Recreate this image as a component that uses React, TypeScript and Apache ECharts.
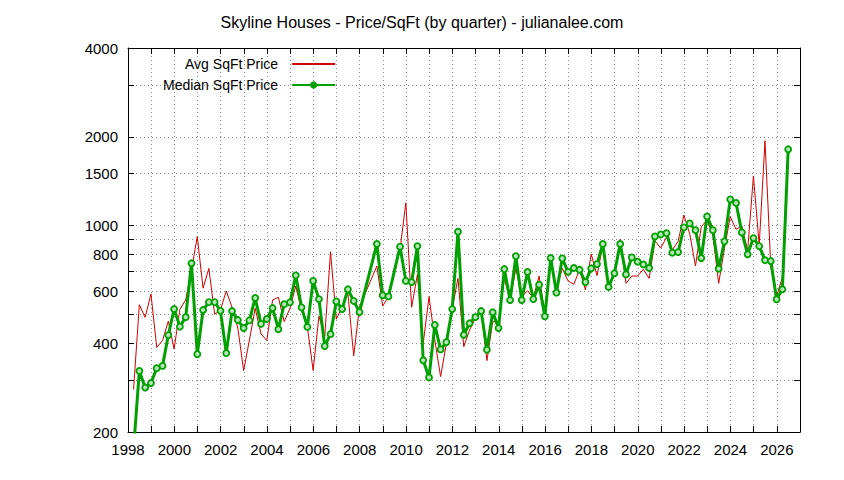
import React, { useEffect, useRef } from "react";
import * as echarts from "echarts";

// First quarter plotted (decimal year) and spacing between quarters
const startYear = 1998.24;
const quarterStep = 0.25;

const avgPrice: (number | null)[] = [
  279, 540, 489, 587, 387, 408, 475, 382, 521, 560,
  710, 918, 614, 717, 501, 518, 601, 529, 450, 323,
  410, 525, 430, 408, 560, 572, 473, 525, 625, 515,
  455, 323, 494, 420, 816, 482, 531, 590, 362, 531,
  null, null, 730, 534, 575, null, 830, 1196, 529, 684,
  399, 575, 410, 308, 399, 521, 663, 389, 443, 485,
  514, 349, 473, 473, 663, 560, 717, 575, 602, 570,
  675, 504, 764, 606, 717, 650, 633, 711, 606, 802,
  677, 860, 625, 684, 900, 638, 675, 675, 711, 663,
  889, 840, 913, 828, 885, 1087, 940, 730, 992, 1046,
  930, 638, 838, 1073, 972, 998, 822, 1474, 860, 1940,
  726, 575, 670, 1800,
];

const medianPrice: (number | null)[] = [
  175, 322, 283, 293, 329, 335, 426, 522, 455, 490,
  746, 367, 518, 551, 551, 515, 370, 514, 479, 450,
  478, 569, 465, 483, 526, 446, 542, 550, 679, 529,
  454, 650, 564, 391, 429, 554, 522, 609, 556, 510,
  null, null, 867, 581, 576, null, 849, 650, 644, 853,
  350, 306, 461, 381, 403, 522, 954, 427, 467, 490,
  514, 380, 509, 450, 713, 560, 789, 560, 697, 564,
  631, 493, 777, 593, 775, 698, 719, 709, 644, 717,
  741, 867, 620, 690, 867, 684, 781, 755, 739, 719,
  920, 934, 944, 810, 814, 987, 1018, 966, 777, 1075,
  966, 715, 885, 1228, 1194, 949, 800, 908, 853, 764,
  759, 563, 609, 1815,
];

const yLabelValues = [200, 400, 600, 800, 1000, 1500, 2000, 4000];
const yGridValues = [200, 300, 400, 500, 600, 700, 800, 900, 1000, 1500, 2000, 3000, 4000];
const xLabelYears = [1998, 2000, 2002, 2004, 2006, 2008, 2010, 2012, 2014, 2016, 2018, 2020, 2022, 2024, 2026];

const seriesNames = ["Avg SqFt Price", "Median SqFt Price"];
const titleText = "Skyline Houses - Price/SqFt (by quarter) - julianalee.com";

const FONT = "'Liberation Sans', Arial, sans-serif";
const RED = "#d00000";
const GREEN = "#00a000";
const GRID_COLOR = "#8a8a8a";

export default function App() {
  const ref = useRef<HTMLDivElement>(null);

  useEffect(() => {
    if (!ref.current) return;
    const chart = echarts.init(ref.current, null, { renderer: "svg" });
    const toPoints = (arr: (number | null)[]) =>
      arr.map((v, i) => [startYear + i * quarterStep, v === null ? "-" : v]);

    const xBase = {
      type: "value" as const,
      min: 1998,
      max: 2027,
      interval: 1,
      axisLine: { show: true, onZero: false, lineStyle: { color: "#000", width: 1 } },
      axisTick: { show: true, inside: true, length: 6, lineStyle: { color: "#000" } },
    };
    const yBase = {
      type: "log" as const,
      logBase: 10,
      min: 200,
      max: 4000,
      axisLine: { show: true, lineStyle: { color: "#000", width: 1 } },
      axisTick: {
        show: true,
        inside: true,
        length: 6,
        customValues: yGridValues,
        lineStyle: { color: "#000" },
      },
    };

    chart.setOption({
      animation: false,
      backgroundColor: "#ffffff",
      title: {
        text: titleText,
        left: "center",
        top: 9,
        textStyle: { fontFamily: FONT, fontSize: 16, fontWeight: "normal", color: "#000" },
      },
      legend: {
        orient: "vertical",
        left: 158,
        top: 52,
        align: "right",
        itemWidth: 43,
        itemHeight: 8,
        itemGap: 7,
        data: [
          { name: seriesNames[0], itemStyle: { opacity: 0 } },
          { name: seriesNames[1], itemStyle: { color: GREEN, borderColor: GREEN, borderWidth: 1 } },
        ],
        textStyle: { fontFamily: FONT, fontSize: 14, color: "#000", padding: [0, 9, 0, 0] },
      },
      grid: { left: 128, right: 44, top: 48, bottom: 48, containLabel: false },
      xAxis: [
        {
          ...xBase,
          position: "bottom",
          axisLabel: {
            show: true,
            margin: 10,
            color: "#000",
            fontFamily: FONT,
            fontSize: 15,
            formatter: (v: number) => (xLabelYears.includes(v) ? String(v) : ""),
          },
          splitLine: {
            show: true,
            lineStyle: { color: GRID_COLOR, type: [1, 3], width: 1 },
          },
        },
        {
          ...xBase,
          position: "top",
          axisLabel: { show: false },
          splitLine: { show: false },
        },
      ],
      yAxis: [
        {
          ...yBase,
          position: "left",
          axisLabel: {
            show: true,
            margin: 10,
            color: "#000",
            fontFamily: FONT,
            fontSize: 15,
            customValues: yLabelValues,
            formatter: (v: number) => String(Math.round(v)),
          },
          splitLine: {
            show: true,
            lineStyle: { color: GRID_COLOR, type: [1, 3], width: 1 },
          },
        },
        {
          ...yBase,
          position: "right",
          axisLabel: { show: false },
          splitLine: { show: false },
        },
      ],
      series: [
        {
          name: seriesNames[0],
          type: "line",
          data: toPoints(avgPrice),
          symbol: "none",
          connectNulls: true,
          lineStyle: { color: RED, width: 1 },
          itemStyle: { color: RED },
          z: 2,
        },
        {
          name: seriesNames[1],
          type: "line",
          data: toPoints(medianPrice),
          symbol: "circle",
          symbolSize: 6,
          connectNulls: true,
          lineStyle: { color: GREEN, width: 3 },
          itemStyle: { color: "#b5e6b5", borderColor: GREEN, borderWidth: 1.8 },
          z: 3,
        },
      ],
    });
    return () => chart.dispose();
  }, []);

  return (
    <div
      ref={ref}
      style={{ position: "fixed", left: 0, top: 0, width: 844, height: 480, background: "#fff" }}
    />
  );
}
